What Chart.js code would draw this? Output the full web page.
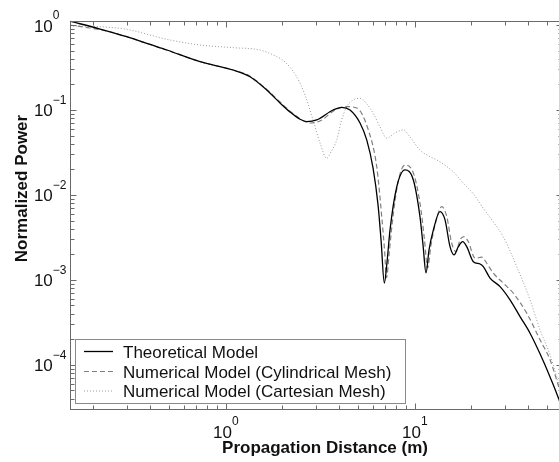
<!DOCTYPE html>
<html>
<head>
<meta charset="utf-8">
<script src="https://cdn.jsdelivr.net/npm/chart.js@4.4.1/dist/chart.umd.min.js"></script>
<style>
  html, body { margin: 0; padding: 0; background: #fff; overflow: hidden; }
  #wrap { position: relative; width: 559px; height: 462px; overflow: hidden; }
  canvas { position: absolute; left: 0; top: 0; }
</style>
</head>
<body>
<div id="wrap"><canvas id="powerChart" width="566" height="462"></canvas></div>
<script>
// Legend names
const seriesNames = [
    "Theoretical Model",
    "Numerical Model (Cylindrical Mesh)",
    "Numerical Model (Cartesian Mesh)"
];

// Theoretical model (solid)
const theoryX = [0.15, 0.217, 0.300, 0.399, 0.489, 0.733, 1.096, 1.348, 1.652, 1.943, 2.194, 2.479, 2.690, 3.038,
    3.706, 4.120, 4.558, 5.148, 5.586, 6.031, 6.411, 6.650, 6.922, 7.154, 7.420, 8.052, 8.908, 9.856, 10.69,
    11.09, 11.50, 11.93, 12.58, 13.64, 14.50, 15.41, 16.18, 17.05, 17.99, 18.89, 20.47, 22.22, 23.12, 25.09,
    28.35, 32.02, 36.16, 40.85, 46.13, 52.12, 58.17, 60];
const theoryY = [1.11, 0.897, 0.728, 0.590, 0.508, 0.370, 0.2955, 0.2464, 0.1719, 0.1209, 0.0947, 0.0777, 0.0729,
    0.0763, 0.100, 0.1076, 0.100, 0.0703, 0.0444, 0.0208, 0.00763, 0.00296, 0.00092, 0.00163, 0.00388, 0.0124,
    0.0197, 0.0150, 0.00551, 0.00258, 0.00121, 0.00225, 0.00388, 0.00636, 0.00508, 0.00246, 0.00197, 0.00246,
    0.00282, 0.00246, 0.00164, 0.00154, 0.00143, 0.00105, 0.000834, 0.000582, 0.00037, 0.000236, 0.000135,
    0.0000722, 0.0000388, 0.0000312];

// Numerical model, cylindrical mesh (dashed)
const cylX = [0.15, 0.192, 0.245, 0.300, 0.399, 0.489, 0.733, 1.096, 1.348, 1.652, 1.943, 2.194, 2.479, 2.80,
    3.162, 3.797, 4.377, 4.946, 5.696, 6.31, 6.707, 6.939, 7.111, 7.331, 7.603, 8.181, 8.908, 9.94, 10.82, 11.29,
    11.72, 12.23, 12.84, 13.93, 14.81, 15.73, 16.58, 17.41, 18.28, 19.26, 20.9, 22.68, 24.1, 26.12, 29.5, 33.32,
    39.24, 46.13, 52.12, 58.17, 60];
const cylY = [1.0, 0.922, 0.834, 0.728, 0.590, 0.508, 0.370, 0.2955, 0.25, 0.174, 0.124, 0.097, 0.079, 0.0703,
    0.0742, 0.100, 0.1094, 0.1056, 0.0582, 0.0215, 0.00556, 0.00225, 0.00106, 0.00197, 0.00444, 0.0142, 0.0225,
    0.0172, 0.00666, 0.00296, 0.00138, 0.00258, 0.00444, 0.00729, 0.00556, 0.0027, 0.00215, 0.00296, 0.00323,
    0.00282, 0.0018, 0.00185, 0.00157, 0.0012, 0.000915, 0.000698, 0.000406, 0.000197, 0.000115, 0.0000536,
    0.0000432];

// Numerical model, cartesian mesh (dotted)
const cartX = [0.15, 0.217, 0.300, 0.489, 0.733, 1.096, 1.522, 1.866, 2.065, 2.38, 2.634, 2.904, 3.162, 3.43,
    3.615, 3.876, 4.085, 4.377, 4.727, 5.148, 5.539, 6.031, 6.57, 7.128, 7.886, 8.726, 9.467, 10.69, 13.64, 16.04,
    18.06, 20.47, 23.04, 26.12, 29.5, 34.74, 40.85, 46.13, 52.12, 56.55, 60];
const cartY = [0.973, 0.955, 0.890, 0.679, 0.582, 0.541, 0.508, 0.424, 0.367, 0.246, 0.150, 0.0763, 0.0409, 0.027,
    0.0321, 0.0444, 0.0722, 0.1094, 0.131, 0.1373, 0.1209, 0.0922, 0.0631, 0.0465, 0.0536, 0.0582, 0.0481, 0.0338,
    0.0245, 0.0187, 0.0138, 0.0103, 0.00703, 0.00481, 0.00321, 0.00143, 0.000582, 0.000258, 0.000131, 0.0000729,
    0.0000469];

// Decade tick labels (exponents of 10)
const xTickExps = [0, 1];
const yTickExps = [0, -1, -2, -3, -4];

const FONT = '"Liberation Sans", Arial, Helvetica, sans-serif';

function toPoints(xs, ys) {
    return xs.map((x, i) => ({ x: x, y: ys[i] }));
}

function expText(e) {
    return e < 0 ? "\u2212" + (-e) : String(e);
}

// axes box, inward ticks, tick labels, titles and legend drawn over the plot
const matlabAxes = {
    id: "matlabAxes",
    afterDraw(chart) {
        const { ctx, chartArea: a, scales: { x, y } } = chart;
        ctx.save();

        ctx.strokeStyle = "#6a6a6a";
        ctx.lineWidth = 1;
        const L = Math.round(a.left) + 0.5, R = Math.round(a.right) + 0.5;
        const T = Math.round(a.top) + 0.5, B = Math.round(a.bottom) + 0.5;
        ctx.strokeRect(L, T, R - L, B - T);

        ctx.beginPath();
        for (let k = -1; k <= 1; k++) {
            for (let m = 1; m <= 9; m++) {
                const v = m * Math.pow(10, k);
                if (v < x.min || v > x.max) continue;
                const px = Math.round(x.getPixelForValue(v)) + 0.5;
                const len = m === 1 ? 6 : 4;
                ctx.moveTo(px, B); ctx.lineTo(px, B - len);
                ctx.moveTo(px, T); ctx.lineTo(px, T + len);
            }
        }
        for (let k = -5; k <= 0; k++) {
            for (let m = 1; m <= 9; m++) {
                const v = m * Math.pow(10, k);
                if (v < y.min || v > y.max) continue;
                const py = Math.round(y.getPixelForValue(v)) + 0.5;
                const len = m === 1 ? 6 : 4;
                ctx.moveTo(L, py); ctx.lineTo(L + len, py);
                ctx.moveTo(R, py); ctx.lineTo(R - len, py);
            }
        }
        ctx.stroke();

        // tick labels 10^n
        ctx.fillStyle = "#111";
        xTickExps.forEach(e => {
            const px = x.getPixelForValue(Math.pow(10, e));
            ctx.font = "17px " + FONT;
            ctx.textAlign = "center";
            ctx.textBaseline = "alphabetic";
            const w = ctx.measureText("10").width;
            ctx.fillText("10", px - 3, a.bottom + 28.7);
            ctx.font = "12px " + FONT;
            ctx.textAlign = "left";
            ctx.fillText(expText(e), px - 3 + w / 2, a.bottom + 15.7);
        });
        yTickExps.forEach(e => {
            const py = y.getPixelForValue(Math.pow(10, e));
            ctx.font = "17px " + FONT;
            ctx.textAlign = "right";
            ctx.textBaseline = "alphabetic";
            ctx.fillText("10", a.left - 17, py + 6.5);
            ctx.font = "12px " + FONT;
            ctx.textAlign = "left";
            ctx.fillText(expText(e), a.left - 17, py - 6);
        });

        // axis titles
        ctx.font = "bold 17px " + FONT;
        ctx.textAlign = "center";
        ctx.fillText("Propagation Distance (m)", 325, 453.3);
        ctx.save();
        ctx.translate(26.5, 188.5);
        ctx.rotate(-Math.PI / 2);
        ctx.fillText("Normalized Power", 0, 0);
        ctx.restore();

        // legend box
        ctx.fillStyle = "#fff";
        ctx.fillRect(75.5, 339.5, 330, 64);
        ctx.strokeStyle = "#8a8a8a";
        ctx.strokeRect(75.5, 339.5, 330, 64);
        const rows = [351.5, 371.5, 391];
        chart.data.datasets.forEach((ds, i) => {
            ctx.save();
            ctx.strokeStyle = ds.borderColor;
            ctx.lineWidth = ds.borderWidth;
            ctx.setLineDash(ds.borderDash || []);
            ctx.beginPath();
            ctx.moveTo(84, rows[i]);
            ctx.lineTo(113, rows[i]);
            ctx.stroke();
            ctx.restore();
            ctx.fillStyle = "#111";
            ctx.font = "17px " + FONT;
            ctx.textAlign = "left";
            ctx.fillText(ds.label, 123, rows[i] + 6);
        });

        ctx.restore();
    }
};

const canvas = document.getElementById("powerChart");

new Chart(canvas, {
    type: "line",
    data: {
        datasets: [
            {
                label: seriesNames[0],
                data: toPoints(theoryX, theoryY),
                borderColor: "#000",
                borderWidth: 1.3
            },
            {
                label: seriesNames[1],
                data: toPoints(cylX, cylY),
                borderColor: "#808080",
                borderWidth: 1.2,
                borderDash: [5, 3]
            },
            {
                label: seriesNames[2],
                data: toPoints(cartX, cartY),
                borderColor: "#999999",
                borderWidth: 1,
                borderDash: [1, 2]
            }
        ]
    },
    options: {
        responsive: false,
        animation: false,
        layout: { padding: { left: 69.8, top: 20.7, right: 4.4, bottom: 52.7 } },
        elements: {
            point: { radius: 0 },
            line: { cubicInterpolationMode: "monotone", fill: false }
        },
        plugins: {
            legend: { display: false },
            tooltip: { enabled: false }
        },
        scales: {
            x: { type: "logarithmic", min: 0.15, max: 60, bounds: "data", display: false },
            y: { type: "logarithmic", min: 3e-5, max: 1.124, bounds: "data", display: false }
        }
    },
    plugins: [matlabAxes]
});
</script>
</body>
</html>
